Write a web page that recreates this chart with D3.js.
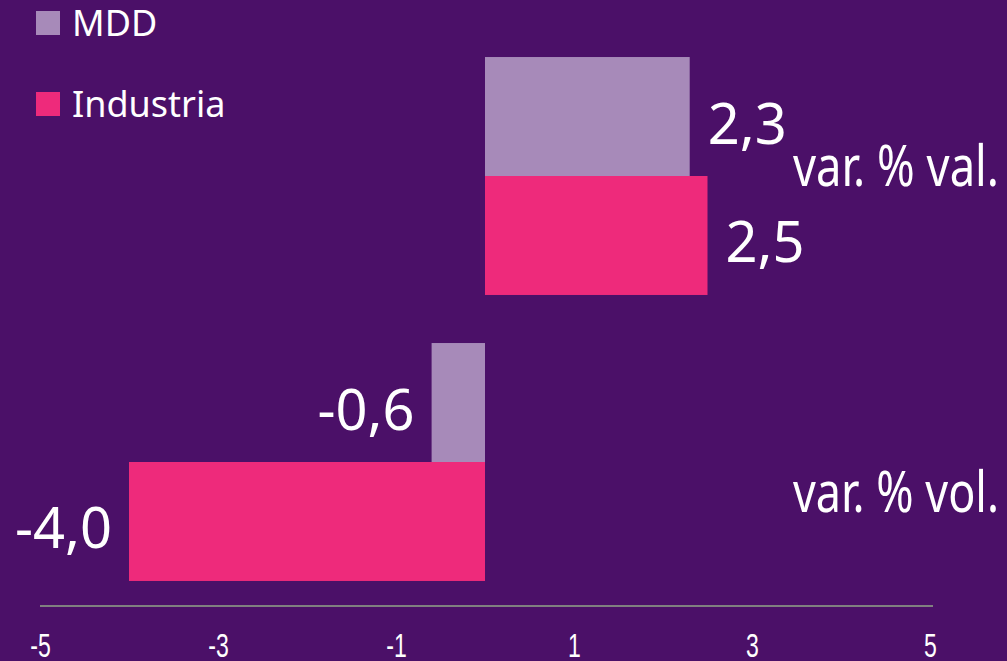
<!DOCTYPE html>
<html>
<head>
<meta charset="utf-8">
<script src="https://cdn.jsdelivr.net/npm/d3@7"></script>
<style>
  html, body { margin: 0; padding: 0; background: #4b1068; }
  svg { display: block; }
</style>
</head>
<body>
<svg id="chart"></svg>
<script>
const WIDTH = 1007;
const HEIGHT = 661;

// datos
const categories = ["var. % val.", "var. % vol."];
const series = ["MDD", "Industria"];
const mdd_values = [2.3, -0.6];
const industria_values = [2.5, -4.0];
const value_labels = [["2,3", "-0,6"], ["2,5", "-4,0"]];
const tick_values = [-5, -3, -1, 1, 3, 5];

const colors = { MDD: "#a78ab9", Industria: "#ee2a7b" };
const BG = "#4b1068";

const svg = d3.select("#chart")
      .attr("width", WIDTH)
      .attr("height", HEIGHT)
      .style("background", BG);

svg.append("rect")
      .attr("width", WIDTH)
      .attr("height", HEIGHT)
      .attr("fill", BG);

const xScale = d3.scaleLinear()
      .domain([-5, 5])
      .range([40, 930]);

const yScale = d3.scaleBand()
      .domain(categories)
      .range([33, 605])
      .paddingInner(0.168)
      .paddingOuter(0.084);

const ySub = d3.scaleBand()
      .domain(series)
      .range([0, yScale.bandwidth()]);

const bar_data = [];
categories.forEach((c, i) => {
      bar_data.push({ cat: c, s: "MDD", v: mdd_values[i], label: value_labels[0][i] });
      bar_data.push({ cat: c, s: "Industria", v: industria_values[i], label: value_labels[1][i] });
});

const bars = svg.append("g");

bars.selectAll(".bar")
      .data(bar_data)
      .enter()
      .append("rect")
      .attr("class", "bar")
      .attr("x", d => xScale(Math.min(0, d.v)))
      .attr("width", d => Math.abs(xScale(d.v) - xScale(0)))
      .attr("y", d => yScale(d.cat) + ySub(d.s))
      .attr("height", ySub.bandwidth())
      .attr("fill", d => colors[d.s]);

bars.selectAll(".val")
      .data(bar_data)
      .enter()
      .append("text")
      .attr("class", "val")
      .attr("x", d => d.v >= 0 ? xScale(d.v) + 18 : xScale(d.v) - 17)
      .attr("y", d => yScale(d.cat) + ySub(d.s) + ySub.bandwidth() / 2 + 27)
      .attr("text-anchor", d => d.v >= 0 ? "start" : "end")
      .style("font-family", "'Noto Sans', sans-serif")
      .style("font-size", "56px")
      .style("fill", "white")
      .text(d => d.label);

// etiquetas de categoria a la derecha
const cat_offsets = [10, 50];
svg.selectAll(".cat")
      .data(categories)
      .enter()
      .append("text")
      .attr("class", "cat")
      .attr("x", 999)
      .attr("y", (d, i) => yScale(d) + cat_offsets[i] + yScale.bandwidth() / 2)
      .attr("text-anchor", "end")
      .attr("textLength", 206)
      .attr("lengthAdjust", "spacingAndGlyphs")
      .style("font-family", "'Noto Sans', sans-serif")
      .style("font-size", "56px")
      .style("fill", "white")
      .text(d => d);

// eje
const axis = svg.append("g")
      .attr("transform", `translate(0, ${606})`)
      .call(d3.axisBottom(xScale)
            .tickValues(tick_values)
            .tickFormat(d => String(d))
            .tickSize(0)
            .tickPadding(0));

axis.select(".domain")
      .attr("d", `M${xScale(-5)},0H${xScale(5) + 3}`)
      .style("stroke", "#808080")
      .style("stroke-width", 2);

// etiquetas del eje, estrechas
axis.selectAll("text")
      .attr("y", 0)
      .attr("dy", 0)
      .attr("transform", "translate(0, 51) scale(0.72, 1.05)")
      .style("font-family", "'Liberation Sans', sans-serif")
      .style("font-size", "32px")
      .style("fill", "white");

// leyenda
const legend = svg.append("g");
const legend_y = [23, 104];
legend.selectAll(".lg")
      .data(series)
      .enter()
      .append("rect")
      .attr("class", "lg")
      .attr("x", 36)
      .attr("y", (d, i) => legend_y[i] - 12)
      .attr("width", 24)
      .attr("height", 24)
      .attr("fill", d => colors[d]);

legend.selectAll(".lgt")
      .data(series)
      .enter()
      .append("text")
      .attr("class", "lgt")
      .attr("x", 72)
      .attr("y", (d, i) => legend_y[i] + 13)
      .style("font-family", "'Noto Sans', sans-serif")
      .style("font-size", "36px")
      .style("fill", "white")
      .text(d => d);
</script>
</body>
</html>
